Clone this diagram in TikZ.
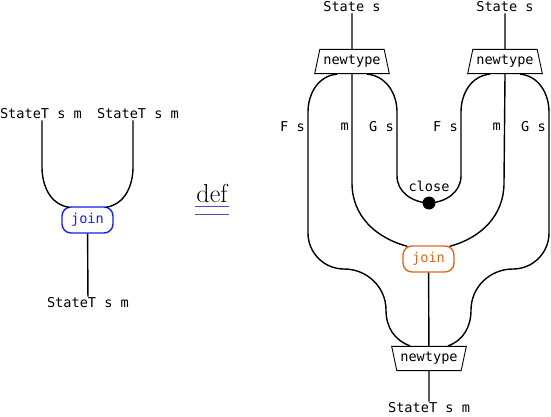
\documentclass[tikz,border=0pt]{standalone}
\usepackage{fontspec}
\setmonofont{DejaVu Sans Mono}
\usepackage{xcolor}
\usepackage{tikz}
\usetikzlibrary{positioning,shapes.geometric}

\definecolor{joinblue}{RGB}{20,30,240}
\definecolor{joinorange}{RGB}{222,104,26}
\definecolor{defline}{RGB}{90,70,200}

\begin{document}
\begin{tikzpicture}[
  x=1pt, y=1pt,
  wire/.style={line width=1.4pt},
  lbl/.style={
    font=\ttfamily\fontsize{13.6}{16}\selectfont,
    inner sep=1pt
  },
  joinbox/.style={
    draw,
    rounded corners=9pt,
    line width=1.4pt,
    minimum width=51pt,
    minimum height=26pt,
    font=\ttfamily\fontsize{13.6}{16}\selectfont
  },
  newtypebox/.style={
    draw,
    trapezium,
    trapezium left angle=78,
    trapezium right angle=78,
    inner xsep=3.5pt,
    inner ysep=6pt,
    line width=0.9pt,
    font=\ttfamily\fontsize{13.6}{16}\selectfont
  },
  closedot/.style={circle, fill=black, inner sep=0pt, minimum size=13pt}
]
  \useasboundingbox (0,0) rectangle (551,-417);

  % left hand side
  \node[lbl] (lhsa) at (41,-114) {StateT s m};
  \node[lbl] (lhsb) at (138,-114) {StateT s m};
  \node[joinbox, draw=joinblue, text=joinblue] (joinl) at (87.5,-220) {join};
  \node[lbl] (lhsout) at (88,-303) {StateT s m};

  \draw[wire] (lhsa.south -| 42,0) -- (42,-167) to[out=-90,in=172] ([xshift=8pt,yshift=-1pt]joinl.north west);
  \draw[wire] (lhsb.south -| 133,0) -- (133,-167) to[out=-90,in=8] ([xshift=-8pt,yshift=-1pt]joinl.north east);
  \draw[wire] (joinl) -- (lhsout);

  % def
  \node[font=\fontsize{26}{30}\selectfont, inner sep=0pt] (defn) at (212,-193) {def};
  \draw[defline, line width=1.3pt] ([xshift=-1pt,yshift=-4pt]defn.south west) -- ([xshift=1pt,yshift=-4pt]defn.south east);
  \draw[defline, line width=1.3pt] ([xshift=-1pt,yshift=-12pt]defn.south west) -- ([xshift=1pt,yshift=-12pt]defn.south east);

  % right hand side
  \node[lbl] (stl) at (352,-7) {State s};
  \node[lbl] (str) at (505,-7) {State s};
  \node[newtypebox] (ntl) at (352,-61.5) {newtype};
  \node[newtypebox] (ntr) at (505,-61.5) {newtype};
  \node[joinbox, draw=joinorange, text=joinorange] (joinr) at (428.5,-259) {join};
  \node[closedot] (cls) at (429,-203) {};
  \node[lbl] (clslbl) at (429,-186) {close};
  \node[newtypebox, shape border rotate=180] (ntb) at (429,-358.5) {newtype};
  \node[lbl] (rhsout) at (429,-408) {StateT s m};

  \node[lbl, anchor=east] (fsl) at (306,-127) {F s};
  \node[lbl, anchor=east] (ml) at (350,-127) {m};
  \node[lbl, anchor=east] (gsl) at (395,-127) {G s};
  \node[lbl, anchor=east] (fsr) at (459,-127) {F s};
  \node[lbl, anchor=east] (mr) at (502,-127) {m};
  \node[lbl, anchor=east] (gsr) at (547,-127) {G s};

  \draw[wire] (stl) -- (ntl);
  \draw[wire] (str) -- (ntr);

  \draw[wire] ([xshift=-15pt]ntl.south) to[out=185,in=90] (308,-112) -- (308,-233)
    to[out=-90,in=180] (344,-269) to[out=0,in=90] (386,-310)
    to[out=-90,in=160] ([xshift=-19pt]ntb.north);
  \draw[wire] (ntl.south) -- (352,-183) to[out=-90,in=165] ([xshift=5pt,yshift=-1pt]joinr.north west);
  \draw[wire] ([xshift=15pt]ntl.south) to[out=-5,in=90] (397,-112) -- (397,-176) to[out=-90,in=178] (cls.center);

  \draw[wire] ([xshift=-15pt]ntr.south) to[out=185,in=90] (461,-112) -- (461,-176) to[out=-90,in=2] (cls.center);
  \draw[wire] (ntr.south) -- (504,-183) to[out=-90,in=15] ([xshift=-5pt,yshift=-1pt]joinr.north east);
  \draw[wire] ([xshift=15pt]ntr.south) to[out=-5,in=90] (549,-112) -- (549,-233)
    to[out=-90,in=0] (513,-269) to[out=180,in=90] (471,-310)
    to[out=-90,in=20] ([xshift=19pt]ntb.north);

  \draw[wire] (joinr) -- (ntb);
  \draw[wire] (ntb) -- (rhsout);
\end{tikzpicture}
\end{document}
